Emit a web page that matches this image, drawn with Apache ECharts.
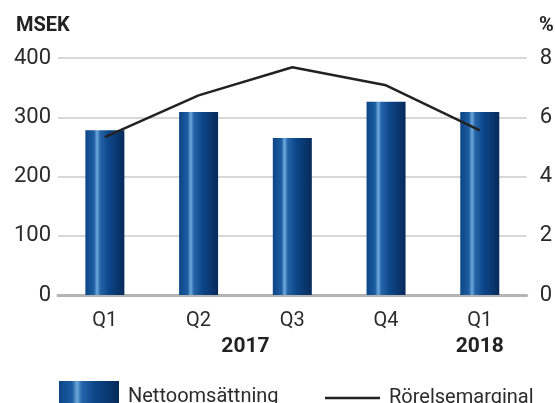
<!DOCTYPE html>
<html>
<head>
<meta charset="utf-8">
<script src="https://cdn.jsdelivr.net/npm/echarts@6/dist/echarts.min.js"></script>
<style>
html,body{margin:0;padding:0;background:#fff;}
#c{width:555px;height:403px;}
</style>
</head>
<body>
<div id="c"></div>
<script>
var categories = ['Q1 2017', 'Q2 2017', 'Q3 2017', 'Q4 2017', 'Q1 2018'];
var nettoomsattning = [278, 309, 265, 326, 309];
var rorelsemarginal = [5.33, 6.74, 7.69, 7.08, 5.56];
var leftTicks = { min: 0, max: 400, interval: 100 };
var rightTicks = { min: 0, max: 8, interval: 2 };
var years = [
  { label: '2017', from: 'Q1 2017', to: 'Q4 2017' },
  { label: '2018', from: 'Q1 2018', to: 'Q1 2018' }
];

var FONT = "Roboto, 'Liberation Sans', sans-serif";
var chart = echarts.init(document.getElementById('c'));

var barGradient = new echarts.graphic.LinearGradient(0, 0, 1, 0, [
  { offset: 0, color: '#0c4586' },
  { offset: 0.22, color: '#1c5da3' },
  { offset: 0.30, color: '#6ea9dc' },
  { offset: 0.38, color: '#2564a9' },
  { offset: 0.6, color: '#0c4689' },
  { offset: 1, color: '#072a5a' }
]);

var option = {
  animation: false,
  grid: { left: 58, right: 27, top: 58, bottom: 108, containLabel: false },
  legend: [
    {
      data: ['Nettoomsättning'],
      left: 59, top: 381, padding: 0,
      itemWidth: 60, itemHeight: 32,
      icon: 'rect',
      textStyle: { fontFamily: FONT, fontSize: 20, lineHeight: 24, color: '#2b2b2b', padding: [0, 0, 0, 4] }
    },
    {
      data: ['Rörelsemarginal'],
      left: 325, top: 386, padding: 0,
      itemWidth: 55, itemHeight: 2.5,
      icon: 'rect',
      itemStyle: { color: '#222222' },
      textStyle: { fontFamily: FONT, fontSize: 20, lineHeight: 24, color: '#2b2b2b', padding: [0, 0, 0, 4] }
    }
  ],
  xAxis: {
    type: 'category',
    data: categories,
    axisTick: { show: false },
    axisLine: { show: true, lineStyle: { color: '#b4b4b4', width: 3 } },
    axisLabel: {
      margin: 16,
      fontFamily: FONT, fontSize: 20, color: '#2b2b2b',
      formatter: function (v) { return v.split(' ')[0]; }
    }
  },
  yAxis: [
    {
      type: 'value',
      min: leftTicks.min, max: leftTicks.max, interval: leftTicks.interval,
      axisLine: { show: false }, axisTick: { show: false },
      splitLine: { lineStyle: { color: '#cbcbcb', width: 1.5 } },
      axisLabel: { margin: 7, fontFamily: FONT, fontSize: 22, color: '#2b2b2b' }
    },
    {
      type: 'value',
      min: rightTicks.min, max: rightTicks.max, interval: rightTicks.interval,
      position: 'right',
      axisLine: { show: false }, axisTick: { show: false },
      splitLine: { show: false },
      axisLabel: { margin: 13, fontFamily: FONT, fontSize: 22, color: '#2b2b2b' }
    }
  ],
  series: [
    {
      name: 'Nettoomsättning',
      type: 'bar',
      data: nettoomsattning,
      barWidth: 39,
      itemStyle: { color: barGradient }
    },
    {
      name: 'Rörelsemarginal',
      type: 'line',
      yAxisIndex: 1,
      data: rorelsemarginal,
      symbol: 'none',
      lineStyle: { color: '#222222', width: 2.5 },
      itemStyle: { color: '#222222' },
      z: 5
    }
  ]
};
chart.setOption(option);

var graphics = [
  { type: 'text', left: 16, top: 16, style: { text: 'MSEK', font: 'bold 20px ' + FONT, fill: '#222' } },
  { type: 'text', left: 539, top: 16, style: { text: '%', font: 'bold 20px ' + FONT, fill: '#222' } }
];
years.forEach(function (y) {
  var x1 = chart.convertToPixel({ xAxisIndex: 0 }, y.from);
  var x2 = chart.convertToPixel({ xAxisIndex: 0 }, y.to);
  graphics.push({
    type: 'text',
    x: (x1 + x2) / 2, y: 347,
    style: { text: y.label, font: 'bold 21px ' + FONT, fill: '#222', align: 'center', verticalAlign: 'middle' }
  });
});
chart.setOption({ graphic: graphics });
</script>
</body>
</html>
